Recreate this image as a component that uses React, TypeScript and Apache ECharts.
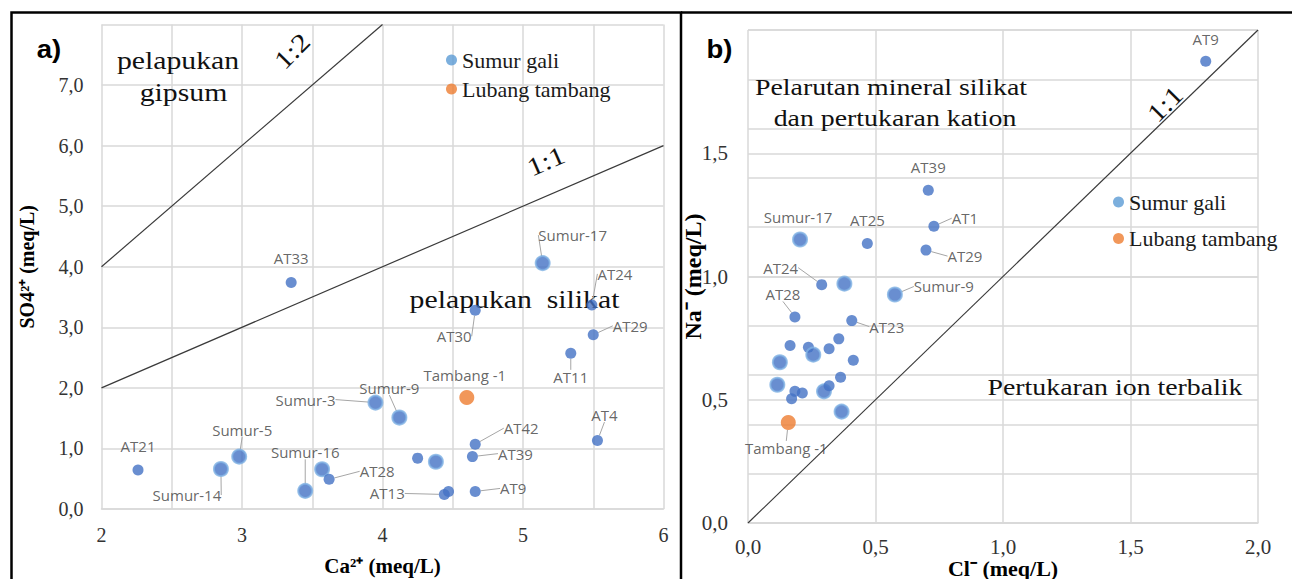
import { useEffect, useRef } from "react";
import * as echarts from "echarts";

const FONT_SERIF = "Liberation Serif, Times New Roman, serif";
const FONT_TICK = "Liberation Serif, Times New Roman, serif";
const FONT_LABEL = "Open Sans, Liberation Sans, sans-serif";

// ---------- Panel a: Ca2+ vs SO4 ----------
const aNames = ["AT33", "AT21", "Sumur-14", "Sumur-5", "Sumur-16", "", "AT28", "Sumur-3", "Sumur-9", "AT30", "Sumur-17", "AT24", "AT29", "AT11", "AT4", "AT42", "AT39", "", "", "AT13", "", "AT9"];
const aCa = [3.35, 2.26, 2.85, 2.98, 3.45, 3.57, 3.62, 3.95, 4.12, 4.66, 5.14, 5.49, 5.5, 5.34, 5.53, 4.66, 4.64, 4.25, 4.38, 4.44, 4.47, 4.66];
const aSO4 = [3.74, 0.645, 0.66, 0.865, 0.3, 0.656, 0.49, 1.757, 1.51, 3.28, 4.06, 3.37, 2.876, 2.57, 1.13, 1.07, 0.865, 0.84, 0.78, 0.24, 0.29, 0.29];
const aMineNames = ["Tambang -1"];
const aMineCa = [4.6];
const aMineSO4 = [1.84];
const aLine11X = [2, 6];
const aLine11Y = [2, 6];
const aLine12X = [2, 4];
const aLine12Y = [4, 8];

// ---------- Panel b: Cl- vs Na ----------
const bNames = ["AT9", "AT39", "AT1", "AT29", "Sumur-17", "AT25", "AT24", "", "Sumur-9", "AT28", "AT23", "", "", "", "", "", "", "", "", "", "", "", "", "", "", ""];
const bCl = [1.795, 0.707, 0.729, 0.698, 0.204, 0.468, 0.289, 0.378, 0.576, 0.184, 0.407, 0.165, 0.237, 0.256, 0.318, 0.356, 0.413, 0.125, 0.363, 0.115, 0.184, 0.213, 0.171, 0.298, 0.318, 0.367];
const bNa = [1.873, 1.35, 1.204, 1.107, 1.15, 1.134, 0.967, 0.971, 0.927, 0.836, 0.821, 0.72, 0.713, 0.683, 0.707, 0.747, 0.66, 0.652, 0.591, 0.561, 0.534, 0.527, 0.504, 0.534, 0.557, 0.452];
const bMineNames = ["Tambang -1"];
const bMineCl = [0.158];
const bMineNa = [0.408];
const bLine11X = [0, 2];
const bLine11Y = [0, 2];

// ---------- styling config (not data) ----------
const haloA = new Set([2, 3, 4, 5, 7, 8, 10, 18]);
const haloB = new Set([4, 7, 8, 13, 17, 19, 23, 25]);
const noLineA = new Set(["AT33", "AT21", "Tambang -1"]);
const noLineB = new Set(["AT9", "AT39", "Sumur-17", "AT25"]);
const offsA: Record<string, [number, number]> = {
  AT33: [0, -24], AT21: [0, -24], "Sumur-14": [-34, 26], "Sumur-5": [3, -27], "Sumur-16": [0, -39],
  AT28: [48, -8], "Sumur-3": [-70, -3], "Sumur-9": [-10, -30], AT30: [-21, 26], "Sumur-17": [30, -28],
  AT24: [23, -31], AT29: [37, -9], AT11: [0, 24], AT4: [7, -26], AT42: [46, -16], AT39: [43, -3],
  AT13: [-57, -1], AT9: [38, -3],
};
const offsAMine: Record<string, [number, number]> = { "Tambang -1": [-2, -23] };
const offsB: Record<string, [number, number]> = {
  AT9: [0, -22], AT39: [0, -23], AT1: [31, -8], AT29: [39, 6], "Sumur-17": [-2, -23], AT25: [0, -23],
  AT24: [-41, -17], "Sumur-9": [49, -8], AT28: [-12, -23], AT23: [35, 6],
};
const offsBMine: Record<string, [number, number]> = { "Tambang -1": [-2, 26] };

const DARK = "#4472C4";
const LIGHT = "#5B9BD5";
const ORANGE = "#ED7D31";
const GRIDC = "#d9d9d9";

function scatter(
  name: string, xs: number[], ys: number[], names: string[], xi: number, yi: number,
  legendColor: string, pointColor: string, halo: Set<number>, noLine: Set<string>,
  offs: Record<string, [number, number]>, baseSize: number
) {
  return {
    type: "scatter",
    name,
    xAxisIndex: xi,
    yAxisIndex: yi,
    z: 5,
    itemStyle: { color: legendColor },
    emphasis: { disabled: true },
    data: xs.map((x, i) => ({
      value: [x, ys[i]],
      name: names[i],
      symbolSize: halo.has(i) ? baseSize + 3 : baseSize,
      itemStyle: halo.has(i)
        ? { color: pointColor, borderColor: "#7FB1E3", borderWidth: 2 }
        : { color: pointColor },
      label: { show: names[i] !== "" },
      labelLine: { show: names[i] !== "" && !noLine.has(names[i]) },
    })),
    label: {
      show: true,
      position: "inside",
      formatter: "{b}",
      color: "#404040",
      fontFamily: FONT_LABEL,
      fontSize: 15,
      textBorderWidth: 0,
    },
    labelLine: { show: true, lineStyle: { color: "#a6a6a6", width: 1 } },
    labelLayout: (p: any) => {
      const o = offs[names[p.dataIndex]];
      return o ? { dx: o[0], dy: o[1] } : {};
    },
  };
}

function ratioLine(xs: number[], ys: number[], xi: number, yi: number) {
  return {
    type: "line",
    xAxisIndex: xi,
    yAxisIndex: yi,
    data: xs.map((x, i) => [x, ys[i]]),
    symbol: "none",
    silent: true,
    z: 3,
    lineStyle: { color: "#3a3a3a", width: 1.2 },
  };
}

const comma = (v: number) => v.toFixed(1).replace(".", ",");

const titleStyle = (size: number) => ({
  fontFamily: FONT_SERIF,
  fontWeight: "bold",
  fontSize: size,
  color: "#000",
});

function txt(text: string, x: number, y: number, size: number, opts: any = {}) {
  return {
    type: "text",
    x,
    y,
    z: 1,
    rotation: opts.rotation || 0,
    scaleX: opts.scaleX || 1,
    style: {
      text,
      fontFamily: opts.family || FONT_SERIF,
      fontSize: size,
      fontWeight: opts.weight || "normal",
      fill: opts.fill || "#111",
      textAlign: "center",
      textVerticalAlign: "middle",
    },
  };
}

const option: any = {
  animation: false,
  backgroundColor: "#fff",
  grid: [
    { left: 101.5, top: 24.5, width: 562, height: 484.5, outerBoundsMode: "none" },
    { left: 748, top: 30, width: 510, height: 493, outerBoundsMode: "none" },
  ],
  xAxis: [
    {
      gridIndex: 0, type: "value", min: 2, max: 6, interval: 0.5,
      axisLabel: {
        formatter: (v: number) => (Math.abs(v - Math.round(v)) < 1e-6 ? String(Math.round(v)) : ""),
        fontFamily: FONT_TICK, fontSize: 20, color: "#333", margin: 16,
      },
      axisLine: { lineStyle: { color: GRIDC, width: 1.5 } },
      axisTick: { show: false },
      splitLine: { lineStyle: { color: GRIDC, width: 1.5 } },
      name: "Ca²⁺ (meq/L)", nameLocation: "middle", nameGap: 46, nameMoveOverlap: false,
      nameTextStyle: titleStyle(21),
    },
    {
      gridIndex: 1, type: "value", min: 0, max: 2, interval: 0.5,
      axisLabel: { formatter: comma, fontFamily: FONT_TICK, fontSize: 21, color: "#333", margin: 13 },
      axisLine: { lineStyle: { color: GRIDC, width: 1.5 } },
      axisTick: { show: false },
      splitLine: { lineStyle: { color: GRIDC, width: 1.5 } },
      name: "Cl⁻ (meq/L)", nameLocation: "middle", nameGap: 34, nameMoveOverlap: false,
      nameTextStyle: titleStyle(22),
    },
  ],
  yAxis: [
    {
      gridIndex: 0, type: "value", position: "left", min: 0, max: 8, interval: 1,
      axisLabel: {
        formatter: (v: number) => (v > 7.5 ? "" : comma(v)),
        fontFamily: FONT_TICK, fontSize: 20, color: "#333", margin: 18,
      },
      axisLine: { show: false },
      axisTick: { show: false },
      splitLine: { lineStyle: { color: GRIDC, width: 1.5 } },
      name: "SO4²⁺ (meq/L)", nameLocation: "middle", nameGap: 65, nameMoveOverlap: false,
      nameTextStyle: titleStyle(20),
    },
    {
      gridIndex: 1, type: "value", position: "left", min: 0, max: 2, interval: 0.2,
      axisLabel: { show: false },
      axisLine: { show: false },
      axisTick: { show: false },
      splitLine: { lineStyle: { color: GRIDC, width: 1.5 } },
    },
    {
      gridIndex: 1, type: "value", position: "left", offset: 0, min: 0, max: 2, interval: 0.5,
      axisLabel: {
        formatter: (v: number) => (v > 1.9 ? "" : comma(v)),
        fontFamily: FONT_TICK, fontSize: 21, color: "#333", margin: 20,
      },
      axisLine: { show: false },
      axisTick: { show: false },
      splitLine: { lineStyle: { color: GRIDC, width: 1.5 } },
      name: "Na⁻ (meq/L)", nameLocation: "middle", nameGap: 43, nameMoveOverlap: false,
      nameTextStyle: titleStyle(24),
    },
  ],
  legend: [
    {
      left: 446, top: 48, orient: "vertical", icon: "circle", itemWidth: 11, itemHeight: 11,
      itemGap: 5, padding: 0, selectedMode: false, data: ["Sumur gali", "Lubang tambang"],
      textStyle: { fontFamily: FONT_SERIF, fontSize: 22, color: "#1a1a1a", lineHeight: 24 },
    },
    {
      left: 1113, top: 190, orient: "vertical", icon: "circle", itemWidth: 11, itemHeight: 11,
      itemGap: 12.6, padding: 0, selectedMode: false, data: ["Sumur gali", "Lubang tambang"],
      textStyle: { fontFamily: FONT_SERIF, fontSize: 22, color: "#1a1a1a", lineHeight: 24 },
    },
  ],
  graphic: [
    { type: "rect", z: 10, shape: { x: 11.5, y: 12.5, width: 669.5, height: 700 }, style: { fill: "none", stroke: "#000", lineWidth: 2.5 } },
    { type: "line", z: 10, shape: { x1: 681, y1: 12.5, x2: 1300, y2: 12.5 }, style: { stroke: "#000", lineWidth: 2.5 } },
    txt("a)", 49, 49, 25, { family: "Liberation Sans, sans-serif", weight: "bold", scaleX: 1.1, fill: "#000" }),
    txt("b)", 719.5, 49, 25, { family: "Liberation Sans, sans-serif", weight: "bold", scaleX: 1.1, fill: "#000" }),
    txt("pelapukan", 178, 61, 25, { scaleX: 1.19 }),
    txt("gipsum", 183.5, 93, 25, { scaleX: 1.19 }),
    txt("1:2", 292, 51, 26, { rotation: Math.PI / 4, scaleX: 1.15 }),
    txt("1:1", 546, 161, 26, { rotation: 0.41, scaleX: 1.15 }),
    txt("pelapukan  silikat", 514.5, 300, 25, { scaleX: 1.19 }),
    txt("Pelarutan mineral silikat", 891, 87, 24, { scaleX: 1.16 }),
    txt("dan pertukaran kation", 895, 118, 24, { scaleX: 1.16 }),
    txt("1:1", 1165, 104, 26, { rotation: Math.PI / 4, scaleX: 1.15 }),
    txt("Pertukaran ion terbalik", 1115, 387.5, 24, { scaleX: 1.16 }),
  ],
  series: [
    ratioLine(aLine11X, aLine11Y, 0, 0),
    ratioLine(aLine12X, aLine12Y, 0, 0),
    scatter("Sumur gali", aCa, aSO4, aNames, 0, 0, LIGHT, DARK, haloA, noLineA, offsA, 11),
    scatter("Lubang tambang", aMineCa, aMineSO4, aMineNames, 0, 0, ORANGE, ORANGE, new Set(), noLineA, offsAMine, 15),
    ratioLine(bLine11X, bLine11Y, 1, 1),
    scatter("Sumur gali", bCl, bNa, bNames, 1, 1, LIGHT, DARK, haloB, noLineB, offsB, 11),
    scatter("Lubang tambang", bMineCl, bMineNa, bMineNames, 1, 1, ORANGE, ORANGE, new Set(), noLineB, offsBMine, 15),
  ],
};

export default function App() {
  const ref = useRef<HTMLDivElement>(null);
  useEffect(() => {
    const chart = echarts.init(ref.current!, undefined, { renderer: "svg" });
    chart.setOption(option);
    return () => chart.dispose();
  }, []);
  return (
    <div
      ref={ref}
      style={{ position: "fixed", left: 0, top: 0, width: 1292, height: 579, background: "#fff" }}
    />
  );
}
